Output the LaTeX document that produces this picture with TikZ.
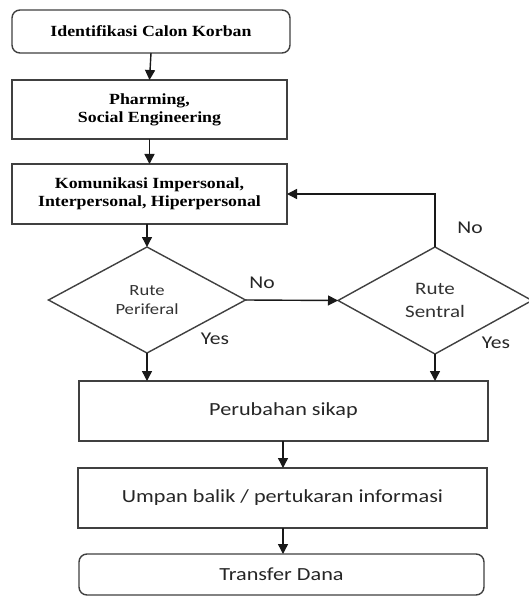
\documentclass[tikz,border=0pt]{standalone}
\usepackage{fontspec}
\usetikzlibrary{shapes.geometric,arrows.meta}
\newfontfamily\serifbold[FakeStretch=1.15]{Liberation Serif}
\newfontfamily\sanscal[FakeStretch=1.2]{Carlito}
\definecolor{linegray}{gray}{0.25}
\begin{document}
\begin{tikzpicture}[x=1pt,y=-1pt,
  every node/.style={inner sep=0pt, outer sep=0pt},
  base/.style={draw=linegray, line width=1.4pt, align=center},
  topbox/.style={base, font=\serifbold\bfseries\fontsize{15.5}{18}\selectfont},
  botbox/.style={base, font=\sanscal\fontsize{18.5}{22}\selectfont, text=black!85},
  dec/.style={base, diamond, text=black!80},
  lbl/.style={font=\sanscal\fontsize{18}{20}\selectfont, text=black!85},
  arr/.style={draw=black!90, line width=1.4pt, -{Triangle[length=10pt,width=10pt]}}
]
\useasboundingbox (0,0) rectangle (529,596);
\clip (0,0) rectangle (529,596);
\fill[white] (0,0) rectangle (529,596);

\node[topbox, rounded corners=8pt, minimum width=278, minimum height=43] (b1) at (151,31.5) {Identifikasi Calon Korban};
\node[topbox, minimum width=275, minimum height=59] (b2) at (149.5,109.5) {Pharming,\\Social Engineering};
\node[topbox, minimum width=275, minimum height=60] (b3) at (149.5,194) {Komunikasi Impersonal,\\Interpersonal, Hiperpersonal};

\node[dec, minimum width=197, minimum height=106, font=\sanscal\fontsize{15.5}{19}\selectfont] (d1) at (147,300) {Rute\\Periferal};
\node[dec, minimum width=194, minimum height=107, font=\sanscal\fontsize{17.5}{23}\selectfont] (d2) at (435,300.5) {Rute\\Sentral};

\node[botbox, minimum width=409, minimum height=60] (b4) at (283.5,411) {Perubahan sikap};
\node[botbox, minimum width=409, minimum height=60] (b5) at (282.5,498) {Umpan balik / pertukaran informasi};
\node[botbox, rounded corners=8pt, minimum width=405, minimum height=41] (b6) at (281.5,574.5) {Transfer Dana};

\node[lbl] (no1) at (262,283) {No};
\node[lbl] (no2) at (470,228) {No};
\node[lbl] (yes1) at (215,339) {Yes};
\node[lbl] (yes2) at (496,343) {Yes};

\draw[arr] (b1.south) -- (b2.north);
\draw[arr] (b2.south) -- (b3.north);
\draw[arr] (d1.north |- b3.south) -- (d1.north);
\draw[arr] (d1.east) -- (d2.west);
\draw[arr] (d2.north) |- (b3.east);
\draw[arr] (d1.south) -- (d1.south |- b4.north);
\draw[arr] (d2.south) -- (d2.south |- b4.north);
\draw[arr] (b4.south -| 283,0) -- (b5.north -| 283,0);
\draw[arr] (b5.south -| 283,0) -- (b6.north -| 283,0);
\end{tikzpicture}
\end{document}
